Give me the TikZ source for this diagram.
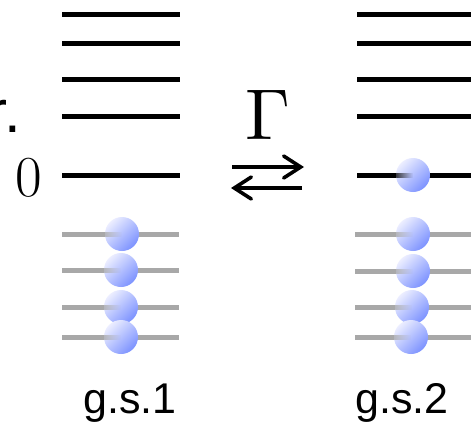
\documentclass[tikz,border=0pt]{standalone}
\usepackage{fontspec}
\newfontfamily\arialfont{Liberation Sans}
\usetikzlibrary{arrows.meta,fadings}
\definecolor{balllight}{RGB}{236,238,255}
\definecolor{balldark}{RGB}{124,146,255}
\definecolor{graylevel}{RGB}{168,168,168}
\tikzset{
  emptylevel/.style={draw=black,line width=5pt},
  fulllevel/.style={draw=graylevel,line width=5pt},
  ballstyle/.style={shading=axis,top color=balllight,bottom color=balldark,shading angle=45},
  rxarrow/.style={line width=3.6pt,-{Straight Barb[length=17pt,width=22pt,line cap=round]}},
  serlabel/.style={inner sep=0pt,font=\fontsize{58}{58}\selectfont},
  gamlabel/.style={inner sep=0pt},
  sanslabel/.style={inner sep=0pt,font=\arialfont\fontsize{43}{43}\selectfont},
  rlabel/.style={inner sep=0pt,font=\arialfont\fontsize{60}{60}\selectfont}
}
% \myball{x}{y}{line colour}
\newcommand{\myball}[3]{%
  \shade[ballstyle] (#1,#2) circle[radius=17];
  \begin{scope}
    \clip (#1,#2) circle[radius=17];
    \fill[#3,path fading=east,opacity=0.75] (#1-17,#2-2.5) rectangle (#1,#2+2.5);
  \end{scope}}
\begin{document}
\begin{tikzpicture}[x=1pt,y=-1pt]
\useasboundingbox (0,0) rectangle (471,426);
% left system
\foreach \yy in {14,43,79,116,175}{
  \draw[emptylevel] (62,\yy) -- (180,\yy);}
\foreach \yy in {234,270,307,337}{
  \draw[fulllevel] (62,\yy) -- (179,\yy);}
\myball{122}{234}{graylevel}
\myball{121}{270}{graylevel}
\myball{121}{307}{graylevel}
\myball{121}{337}{graylevel}
% right system
\foreach \yy in {14,43,79,116,175}{
  \draw[emptylevel] (357,\yy) -- (471,\yy);}
\foreach \yy in {234,271,307,337}{
  \draw[fulllevel] (355,\yy) -- (471,\yy);}
\myball{413}{175}{black}
\myball{413}{234}{graylevel}
\myball{413}{271}{graylevel}
\myball{412}{307}{graylevel}
\myball{411}{337}{graylevel}
% labels
\node[rlabel,anchor=base east] (rl) at (21,132) {r.};
\node[serlabel,anchor=base] (zero) at (29,196) {0};
\node[gamlabel,anchor=base] (gam) at (268,139) {\scalebox{7.2}{$\Gamma$}};
\node[sanslabel,anchor=base] (gs1) at (130,413) {g.s.1};
\node[sanslabel,anchor=base] (gs2) at (402,413) {g.s.2};
% arrows
\coordinate (a1) at (232,167);
\coordinate (a2) at (304,167);
\coordinate (b1) at (302,188);
\coordinate (b2) at (231,188);
\draw[rxarrow] (a1) -- (a2);
\draw[rxarrow] (b1) -- (b2);
\end{tikzpicture}
\end{document}
